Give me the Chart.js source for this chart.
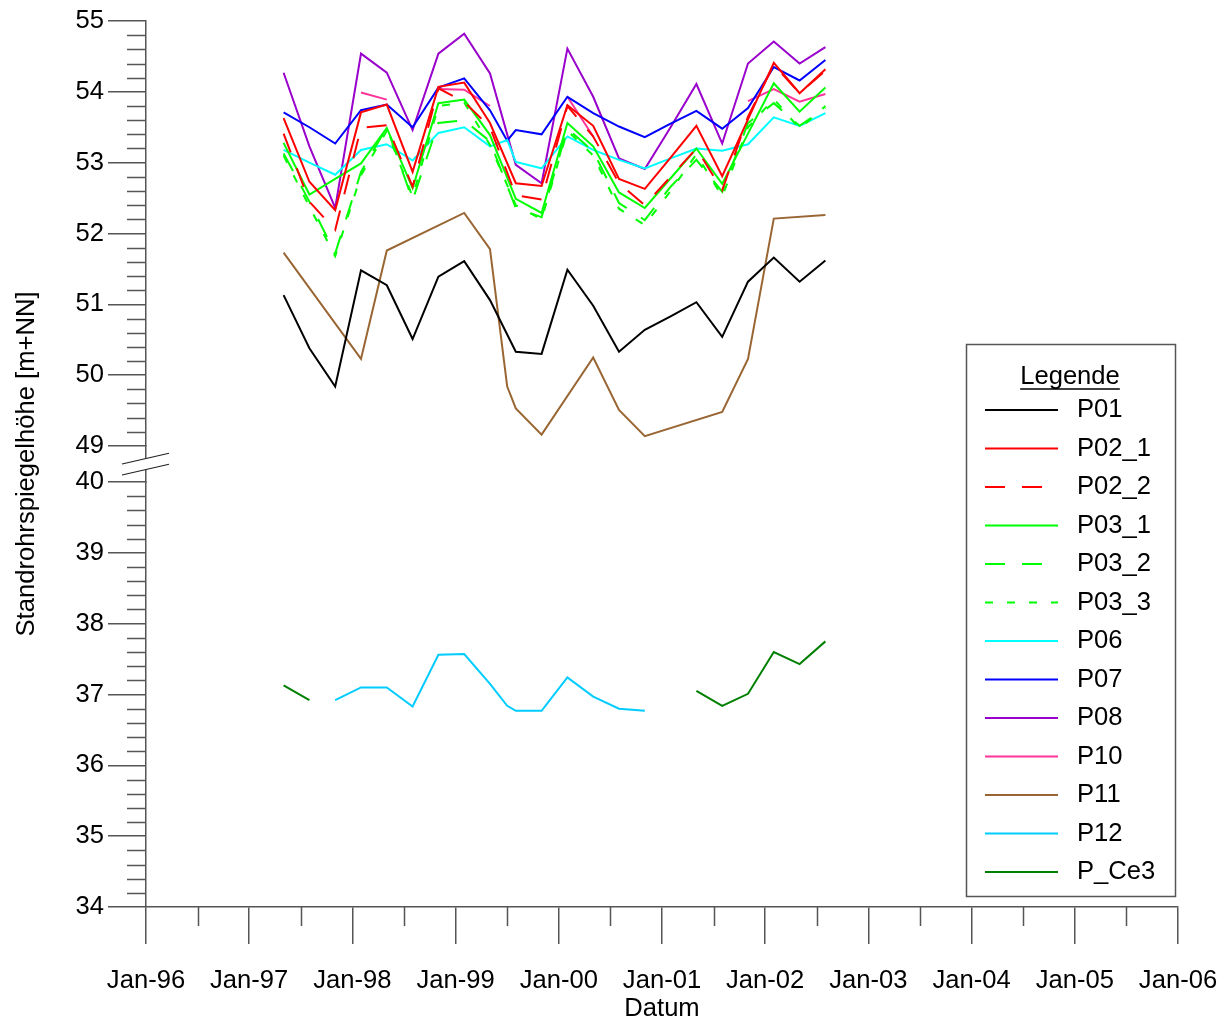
<!DOCTYPE html>
<html>
<head>
<meta charset="utf-8">
<script src="https://cdn.jsdelivr.net/npm/chart.js@4.4.1/dist/chart.umd.min.js"></script>
<style>
    html, body { margin: 0; padding: 0; background: #fff; }
</style>
</head>
<body>
<canvas id="myChart" width="1229" height="1017"></canvas>
<script>

// Messtermine (etwa quartalsweise, 1999-07 nur einzelne Pegel)
var dates = ["1997-05","1997-08","1997-11","1998-02","1998-05","1998-08","1998-11",
             "1999-02","1999-05","1999-07","1999-08","1999-11","2000-02","2000-05",
             "2000-08","2000-11","2001-02","2001-05","2001-08","2001-11","2002-02",
             "2002-05","2002-08"];

var P01   = [51.13, 50.38, 49.84, 51.48, 51.27, 50.51, 51.39, 51.61, 51.06, null, 50.33, 50.30, 51.49, 50.98, 50.33, 50.64, 50.83, 51.03, 50.54, 51.32, 51.66, 51.32, 51.62];
var P02_1 = [53.63, 52.73, 52.33, 53.71, 53.82, 52.87, 54.07, 54.13, 53.56, null, 52.71, 52.67, 53.81, 53.52, 52.77, 52.63, 53.07, 53.52, 52.81, 53.61, 54.41, 53.98, 54.32];
var P02_2 = [53.41, 52.45, 52.05, 53.49, 53.53, 52.66, 54.05, 53.86, 53.50, null, 52.54, 52.48, 53.80, 53.37, 52.71, 52.40, 52.80, 53.20, 52.61, 53.65, 54.38, 53.98, 54.30];
var P03_1 = [53.28, 52.55, 52.77, 52.99, 53.49, 52.64, 53.84, 53.89, 53.39, null, 52.49, 52.29, 53.56, 53.23, 52.58, 52.36, 52.78, 53.20, 52.70, 53.41, 54.12, 53.72, 54.06];
var P03_2 = [53.13, 52.45, 51.72, 52.87, 53.50, 52.47, 53.56, 53.60, 53.30, null, 52.36, 52.23, 53.48, 53.16, 52.43, 52.19, 52.66, 53.04, 52.59, 53.56, 53.84, 53.52, 53.77];
var P03_3 = [53.10, 52.38, 51.68, 52.82, 53.45, 52.52, 53.80, 53.85, 53.25, null, 52.40, 52.20, 53.45, 53.10, 52.35, 52.12, 52.60, 53.12, 52.52, 53.50, 53.90, 53.48, 53.80];
var P06   = [53.18, 53.00, 52.83, 53.18, 53.26, 53.03, 53.42, 53.50, 53.23, 53.32, 53.01, 52.92, 53.37, 53.18, 53.04, 52.92, 53.06, 53.20, 53.17, 53.26, 53.64, 53.52, 53.70];
var P07   = [53.71, 53.50, 53.27, 53.74, 53.82, 53.50, 54.06, 54.19, 53.74, 53.31, 53.46, 53.40, 53.93, 53.70, 53.51, 53.36, 53.55, 53.73, 53.48, 53.77, 54.35, 54.16, 54.45];
var P08   = [54.27, 53.23, 52.36, 54.54, 54.27, 53.46, 54.54, 54.82, 54.26, null, 52.97, 52.71, 54.61, 53.93, 53.06, 52.91, 53.50, 54.11, 53.27, 54.40, 54.71, 54.40, 54.63];
var P10   = [null, null, null, 53.99, 53.89, null, 54.04, 54.03, 53.80, null, null, null, 53.93, 53.37, null, null, null, null, null, 53.87, 54.04, 53.86, 53.97];
var P11   = [51.73, null, null, 50.23, 51.76, null, null, 52.29, 51.78, 49.84, 49.53, 49.16, null, 50.25, 49.51, 49.14, null, null, 49.48, 50.23, 52.21, null, 52.26];
var P12   = [null, null, 36.92, 37.10, 37.10, 36.83, 37.56, 37.57, 37.15, 36.84, 36.77, 36.77, 37.24, 36.97, 36.80, 36.77, null, null, null, null, null, null, null];
var P_Ce3 = [37.13, 36.92, null, null, null, null, null, null, null, null, null, null, null, null, null, null, null, 37.05, 36.84, 37.01, 37.60, 37.43, 37.75];

var xYears = [1996, 1997, 1998, 1999, 2000, 2001, 2002, 2003, 2004, 2005, 2006];
var yTopTicks = [49, 50, 51, 52, 53, 54, 55];
var yBotTicks = [34, 35, 36, 37, 38, 39, 40];

var FONT = '"Liberation Sans", Arial, sans-serif';
var FSIZE = 25.6;
var AXIS = '#555';
var LONG_DASH = [20, 17];
var SHORT_DASH = [8, 14];

function toYear(s) {
    var p = s.split("-");
    return parseInt(p[0], 10) + (parseInt(p[1], 10) - 1) / 12;
}

function series(label, values, color, dash, axis, span) {
    return {
        label: label,
        data: dates.map(function (d, i) { return { x: toYear(d), y: values[i] }; }),
        borderColor: color,
        backgroundColor: color,
        borderWidth: 2,
        borderDash: dash,
        pointRadius: 0,
        tension: 0,
        fill: false,
        spanGaps: span,
        yAxisID: axis
    };
}

// Nebenstriche an den Achsen
var minorTicks = {
    id: 'minorTicks',
    afterDraw: function (chart) {
        var ctx = chart.ctx;
        ctx.save();
        ctx.strokeStyle = AXIS;
        ctx.lineWidth = 1.5;
        ctx.beginPath();
        ['yTop', 'yBot'].forEach(function (id) {
            var s = chart.scales[id];
            for (var v = s.min; v < s.max; v++) {
                for (var k = 1; k < 5; k++) {
                    var py = Math.round(s.getPixelForValue(v + k * 0.2)) + 0.5;
                    ctx.moveTo(s.right - 19, py);
                    ctx.lineTo(s.right, py);
                }
            }
        });
        var sx = chart.scales.x;
        for (var yr = 1996; yr < 2006; yr++) {
            var px = Math.round(sx.getPixelForValue(yr + 0.5)) + 0.5;
            ctx.moveTo(px, sx.top);
            ctx.lineTo(px, sx.top + 19);
        }
        ctx.stroke();
        ctx.restore();
    }
};

// Achsenbruch zwischen 40 und 49
var axisBreak = {
    id: 'axisBreak',
    afterDraw: function (chart) {
        var g = chart.scales.yGap;
        var ctx = chart.ctx;
        var cx = g.right, cy = (g.top + g.bottom) / 2;
        var x1 = cx - 24, x2 = cx + 23, slope = -0.228;
        ctx.save();
        ctx.fillStyle = '#fff';
        ctx.beginPath();
        ctx.moveTo(x1, cy - 5.5 - 24 * slope);
        ctx.lineTo(x2, cy - 5.5 + 23 * slope);
        ctx.lineTo(x2, cy + 5.5 + 23 * slope);
        ctx.lineTo(x1, cy + 5.5 - 24 * slope);
        ctx.closePath();
        ctx.fill();
        ctx.strokeStyle = '#222';
        ctx.lineWidth = 1.2;
        ctx.beginPath();
        [-5.5, 5.5].forEach(function (o) {
            ctx.moveTo(x1, cy + o - 24 * slope);
            ctx.lineTo(x2, cy + o + 23 * slope);
        });
        ctx.stroke();
        ctx.restore();
    }
};

// Legende im Rahmen
var legendBox = {
    id: 'legendBox',
    afterDraw: function (chart) {
        var ctx = chart.ctx, a = chart.chartArea;
        var w = 209, h = 552;
        var left = a.right - 3 - w, top = a.bottom - 11 - h;
        ctx.save();
        ctx.fillStyle = '#fff';
        ctx.fillRect(left, top, w, h);
        ctx.strokeStyle = AXIS;
        ctx.lineWidth = 1.5;
        ctx.strokeRect(left + 0.5, top + 0.5, w, h);

        ctx.font = FSIZE + 'px ' + FONT;
        ctx.fillStyle = '#000';
        ctx.textBaseline = 'middle';
        ctx.textAlign = 'center';
        var tx = left + 104, ty = top + 33;
        ctx.fillText('Legende', tx, ty);
        var tw = ctx.measureText('Legende').width;
        ctx.strokeStyle = '#000';
        ctx.lineWidth = 1.5;
        ctx.beginPath();
        ctx.moveTo(tx - tw / 2, ty + 12);
        ctx.lineTo(tx + tw / 2, ty + 12);
        ctx.stroke();

        ctx.textAlign = 'left';
        chart.data.datasets.forEach(function (ds, i) {
            var y = top + 66 + i * 38.5;
            ctx.strokeStyle = ds.borderColor;
            ctx.lineWidth = 2;
            ctx.setLineDash(ds.borderDash || []);
            ctx.beginPath();
            ctx.moveTo(left + 19, y);
            ctx.lineTo(left + 92, y);
            ctx.stroke();
            ctx.setLineDash([]);
            ctx.fillText(ds.label, left + 111, y);
        });
        ctx.restore();
    }
};

function yScale(min, max, ticks, weight, stackWeight) {
    return {
        type: 'linear',
        position: 'left',
        stack: 'y',
        stackWeight: stackWeight,
        weight: weight,
        min: min,
        max: max,
        afterBuildTicks: function (s) {
            s.ticks = ticks.map(function (v) { return { value: v }; });
        },
        afterFit: function (s) { s.width = 146; },
        ticks: {
            color: '#000',
            padding: 4,
            autoSkip: false,
            font: { family: FONT, size: FSIZE }
        },
        grid: {
            drawOnChartArea: false,
            tickLength: 38,
            color: AXIS,
            lineWidth: 1.5
        },
        border: { color: AXIS, width: 1.5 }
    };
}

var gapWeight = 36 / (425 / 6);

var ctx = document.getElementById('myChart').getContext('2d');
var chart = new Chart(ctx, {
    type: 'line',
    data: {
        datasets: [
            series('P01', P01, '#000000', [], 'yTop', true),
            series('P02_1', P02_1, '#ff0000', [], 'yTop', true),
            series('P02_2', P02_2, '#ff0000', LONG_DASH, 'yTop', true),
            series('P03_1', P03_1, '#00ff00', [], 'yTop', true),
            series('P03_2', P03_2, '#00ff00', LONG_DASH, 'yTop', true),
            series('P03_3', P03_3, '#00ff00', SHORT_DASH, 'yTop', true),
            series('P06', P06, '#00ffff', [], 'yTop', true),
            series('P07', P07, '#0000ff', [], 'yTop', true),
            series('P08', P08, '#9900cc', [], 'yTop', true),
            series('P10', P10, '#ff3399', [], 'yTop', false),
            series('P11', P11, '#996633', [], 'yTop', true),
            series('P12', P12, '#00ccff', [], 'yBot', false),
            series('P_Ce3', P_Ce3, '#008000', [], 'yBot', false)
        ]
    },
    options: {
        responsive: false,
        animation: false,
        devicePixelRatio: 1,
        layout: { padding: { top: 21, right: 51, bottom: 0, left: 0 } },
        plugins: {
            legend: { display: false },
            tooltip: { enabled: false }
        },
        scales: {
            x: {
                type: 'linear',
                min: 1996,
                max: 2006,
                afterBuildTicks: function (s) {
                    s.ticks = xYears.map(function (v) { return { value: v }; });
                },
                afterFit: function (s) {
                    s.height = 110;
                    s.paddingLeft = 0;
                    s.paddingRight = 0;
                },
                ticks: {
                    color: '#000',
                    padding: 22,
                    maxRotation: 0,
                    autoSkip: false,
                    font: { family: FONT, size: FSIZE },
                    callback: function (v) { return 'Jan-' + String(v).slice(2); }
                },
                grid: {
                    drawOnChartArea: false,
                    tickLength: 37,
                    color: AXIS,
                    lineWidth: 1.5
                },
                border: { color: AXIS, width: 1.5 },
                title: {
                    display: true,
                    text: 'Datum',
                    color: '#000',
                    font: { family: FONT, size: FSIZE, lineHeight: 1 },
                    padding: { top: 0, bottom: -5 }
                }
            },
            yBot: yScale(34, 40, yBotTicks, 1, 6),
            yGap: {
                type: 'linear',
                position: 'left',
                stack: 'y',
                stackWeight: gapWeight,
                weight: 2,
                min: 0,
                max: 1,
                afterFit: function (s) { s.width = 146; },
                ticks: { display: false },
                grid: { display: false },
                border: { color: AXIS, width: 1.5 },
                title: {
                    display: true,
                    text: 'Standrohrspiegelhöhe [m+NN]',
                    color: '#000',
                    font: { family: FONT, size: FSIZE },
                    padding: { top: 11.5, bottom: 0 }
                }
            },
            yTop: yScale(49, 55, yTopTicks, 3, 6)
        }
    },
    plugins: [minorTicks, axisBreak, legendBox]
});

</script>
</body>
</html>
